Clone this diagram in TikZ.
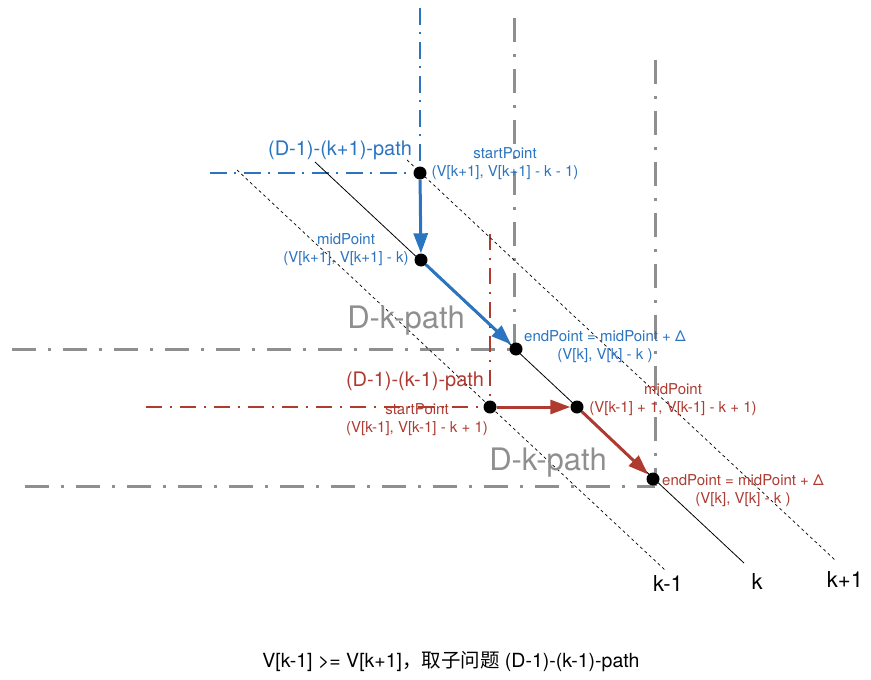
\documentclass[tikz,border=0pt]{standalone}
\usepackage{fontspec}
\setmainfont{TeX Gyre Heros}
\newfontfamily\cjk{Noto Sans CJK SC}
\usetikzlibrary{arrows.meta}
\definecolor{dblue}{HTML}{2A74C0}
\definecolor{dred}{HTML}{AE3A30}
\definecolor{dgray}{HTML}{8F8F8F}
\begin{document}
\begin{tikzpicture}[x=1pt,y=-1pt,
  gdash/.style={dgray, line width=3pt, dash pattern=on 24pt off 12pt on 3pt off 12pt},
  bdash/.style={dblue, line width=1.8pt, dash pattern=on 17pt off 7pt on 2pt off 8pt},
  rdash/.style={dred, line width=1.8pt, dash pattern=on 16pt off 8pt on 2pt off 8pt},
  diag/.style={black, line width=0.7pt, dash pattern=on 3pt off 3pt},
  kline/.style={black, line width=0.8pt},
  dot/.style={circle, fill=black, inner sep=0pt, minimum size=13pt},
  barrow/.style={dblue, line width=3pt, -{Triangle[length=20pt,width=14pt]}},
  rarrow/.style={dred, line width=3pt, -{Triangle[length=20pt,width=14pt]}},
  lbl/.style={font=\fontsize{15}{18}\selectfont, align=center, inner sep=0pt},
  big/.style={font=\fontsize{20}{24}\selectfont, inner sep=0pt},
  huge/.style={font=\fontsize{31}{36}\selectfont, inner sep=0pt, text=dgray},
  klbl/.style={font=\fontsize{22}{26}\selectfont, inner sep=0pt}]
\useasboundingbox (0,0) rectangle (871,680);

% guide coordinates
\coordinate (g1t) at (514,18);
\coordinate (g1c) at (514,349);
\coordinate (g1l) at (12,349);
\coordinate (g2t) at (655,60);
\coordinate (g2c) at (655,486);
\coordinate (g2l) at (25,486);
\coordinate (b1t) at (420,8);
\coordinate (b1c) at (420,173);
\coordinate (b1l) at (210,173);
\coordinate (r1t) at (490,234);
\coordinate (r1c) at (490,407);
\coordinate (r1l) at (146,407);

\draw[gdash] (g1t) -- (g1c);
\draw[gdash] (g1l) -- (g1c);
\draw[gdash] (g2t) -- (g2c);
\draw[gdash] (g2l) -- (g2c);
\draw[bdash] (b1t) -- (b1c);
\draw[bdash] (b1l) -- (b1c);
\draw[rdash] (r1t) -- (r1c);
\draw[rdash] (r1l) -- (r1c);

% diagonals
\coordinate (km1a) at (237,170);
\coordinate (km1b) at (665,570);
\coordinate (ka) at (315,162);
\coordinate (kb) at (744,563);
\coordinate (kp1a) at (407,160);
\coordinate (kp1b) at (835,560);
\draw[diag] (km1a) -- (km1b);
\draw[kline] (ka) -- (kb);
\draw[diag] (kp1a) -- (kp1b);

% points
\node[dot] (bs) at (420,173) {};
\node[dot] (bm) at (421,260) {};
\node[dot] (be) at (516,349) {};
\node[dot] (rs) at (490,407) {};
\node[dot] (rm) at (577,407) {};
\node[dot] (re) at (653,479) {};

\draw[barrow] (bs) -- (bm);
\draw[barrow] (bm) -- (be);
\draw[rarrow] (rs) -- (rm);
\draw[rarrow] (rm) -- (re);

% labels
\node[big, text=dblue] (tb) at (340,150) {(D-1)-(k+1)-path};
\node[lbl, text=dblue] (bsl) at (505,164) {startPoint\\(V[k+1], V[k+1] - k - 1)};
\node[lbl, text=dblue] (bml) at (346,250) {midPoint\\(V[k+1], V[k+1] - k)};
\node[huge] (dk1) at (406,321) {D-k-path};
\node[lbl, text=dblue] (bel) at (605,347) {endPoint = midPoint + Δ\\(V[k], V[k] - k )};
\node[big, text=dred] (tr) at (415,381) {(D-1)-(k-1)-path};
\node[lbl, text=dred] (rsl) at (417,420) {startPoint\\(V[k-1], V[k-1] - k + 1)};
\node[lbl, text=dred] (rml) at (673,400) {midPoint\\(V[k-1] + 1, V[k-1] - k + 1)};
\node[huge] (dk2) at (548,463) {D-k-path};
\node[lbl, text=dred] (rel) at (743,491) {endPoint = midPoint + Δ\\(V[k], V[k] - k )};

\node[klbl] (lkm1) at (668,583) {k-1};
\node[klbl] (lk) at (757,581) {k};
\node[klbl] (lkp1) at (845,579) {k+1};

\node[font=\fontsize{19.5}{23}\selectfont, inner sep=0pt] (cap) at (451,662) {V[k-1] >= V[k+1]{\cjk ，取子问题} (D-1)-(k-1)-path};
\end{tikzpicture}
\end{document}
